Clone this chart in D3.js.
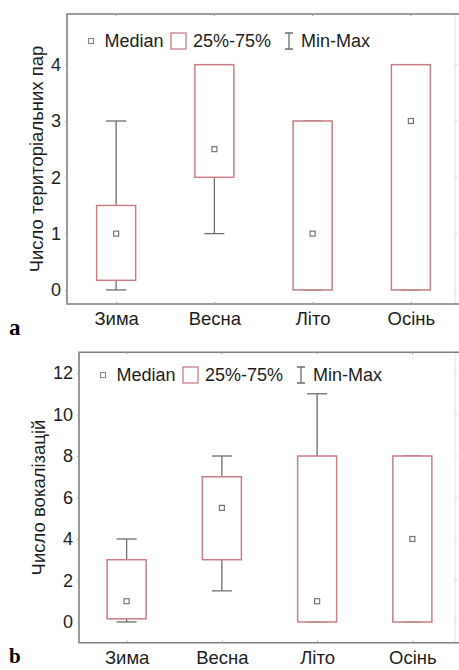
<!DOCTYPE html>
<html><head><meta charset="utf-8">
<script src="https://cdn.jsdelivr.net/npm/d3@7"></script>
<style>body{margin:0;background:#fff}svg{display:block}</style>
</head><body>
<svg id="c" width="459" height="670"></svg>
<script>
const categories = ["Зима", "Весна", "Літо", "Осінь"];
// panel a: Число територіальних пар
const aMin = [0, 1, 0, 0];
const aQ1 = [0.17, 2, 0, 0];
const aMed = [1, 2.5, 1, 3];
const aQ3 = [1.5, 4, 3, 4];
const aMax = [3, 4, 3, 4];
const aTicks = [0, 1, 2, 3, 4];
// panel b: Число вокалізацій
const bMin = [0, 1.5, 0, 0];
const bQ1 = [0.15, 3, 0, 0];
const bMed = [1, 5.5, 1, 4];
const bQ3 = [3, 7, 8, 8];
const bMax = [4, 8, 11, 8];
const bTicks = [0, 2, 4, 6, 8, 10, 12];
const legendLabels = ["Median", "25%-75%", "Min-Max"];

const svg = d3.select("#c");
const FONT = "'Liberation Sans', Arial, sans-serif";
const boxCol = "#c97e88", whiskCol = "#6e6e6e", frameCol = "#808080", textCol = "#1e1e1e";

function panel(o) {
  const g = svg.append("g");
  const x = d3.scalePoint().domain(categories).range([o.left, o.right]).padding(0.5);
  const y = d3.scaleLinear().domain(o.domain).range([o.bottom, o.top]);
  // faint right border
  g.append("line").attr("x1", 455).attr("x2", 455).attr("y1", o.top).attr("y2", o.bottom)
    .attr("stroke", "#e2e2e2").attr("stroke-width", 1);
  // frame: top, left, bottom
  g.append("path").attr("d", `M${o.right},${o.top}H${o.left}V${o.bottom}H${o.right}`)
    .attr("fill", "none").attr("stroke", frameCol).attr("stroke-width", 1.6);
  // y axis
  const ya = g.append("g").attr("transform", `translate(${o.left},0)`)
    .call(d3.axisLeft(y).tickValues(o.ticks).tickFormat(d3.format("d")).tickSize(2).tickPadding(4));
  ya.select(".domain").remove();
  ya.selectAll("line").attr("stroke", "#aaa");
  ya.selectAll("text").attr("font-family", FONT).attr("font-size", 18).attr("fill", textCol);
  // right faint ticks
  g.selectAll(".rt").data(o.ticks).join("line")
    .attr("x1", 454).attr("x2", 458).attr("y1", d => y(d)).attr("y2", d => y(d))
    .attr("stroke", "#ddd");
  // x axis
  const xa = g.append("g").attr("transform", `translate(0,${o.bottom})`)
    .call(d3.axisBottom(x).tickSize(-2).tickPadding(8));
  xa.select(".domain").remove();
  xa.selectAll("line").attr("stroke", "#999");
  xa.selectAll("text").attr("font-family", FONT).attr("font-size", 18.5).attr("fill", textCol);
  // top ticks
  g.selectAll(".tt").data(categories).join("line")
    .attr("x1", d => x(d)).attr("x2", d => x(d)).attr("y1", o.top).attr("y2", o.top + 2)
    .attr("stroke", "#999");
  const idx = d3.range(categories.length);
  const bw = 39, cw = 20;
  // whiskers
  idx.forEach(i => {
    const cx = x(categories[i]);
    if (o.max[i] > o.q3[i]) {
      g.append("line").attr("x1", cx).attr("x2", cx).attr("y1", y(o.q3[i])).attr("y2", y(o.max[i])).attr("stroke", whiskCol).attr("stroke-width", 1.3);
    }
    g.append("line").attr("x1", cx - cw / 2).attr("x2", cx + cw / 2).attr("y1", y(o.max[i])).attr("y2", y(o.max[i])).attr("stroke", whiskCol).attr("stroke-width", 1.3);
    if (o.min[i] < o.q1[i]) {
      g.append("line").attr("x1", cx).attr("x2", cx).attr("y1", y(o.q1[i])).attr("y2", y(o.min[i])).attr("stroke", whiskCol).attr("stroke-width", 1.3);
    }
    g.append("line").attr("x1", cx - cw / 2).attr("x2", cx + cw / 2).attr("y1", y(o.min[i])).attr("y2", y(o.min[i])).attr("stroke", whiskCol).attr("stroke-width", 1.3);
  });
  // boxes
  g.selectAll(".box").data(idx).join("rect")
    .attr("x", i => x(categories[i]) - bw / 2).attr("width", bw)
    .attr("y", i => y(o.q3[i])).attr("height", i => y(o.q1[i]) - y(o.q3[i]))
    .attr("fill", "#fff").attr("stroke", boxCol).attr("stroke-width", 1.5);
  // medians
  g.selectAll(".med").data(idx).join("rect")
    .attr("x", i => x(categories[i]) - 2.5).attr("y", i => y(o.med[i]) - 2.5)
    .attr("width", 5).attr("height", 5)
    .attr("fill", "#fff").attr("stroke", "#777").attr("stroke-width", 1.2);
  // legend
  const L = o.left, ly = o.legendY;
  g.append("rect").attr("x", L + 21.5).attr("y", ly - 2.5).attr("width", 5).attr("height", 5)
    .attr("fill", "#fff").attr("stroke", "#888").attr("stroke-width", 1.1);
  g.append("rect").attr("x", L + 104).attr("y", ly - 8).attr("width", 15).attr("height", 16)
    .attr("fill", "#fff").attr("stroke", boxCol).attr("stroke-width", 1.3);
  const ib = L + 222;
  g.append("path").attr("d", `M${ib - 4},${ly - 8}H${ib + 4}M${ib},${ly - 8}V${ly + 8}M${ib - 4},${ly + 8}H${ib + 4}`)
    .attr("stroke", whiskCol).attr("stroke-width", 1.3).attr("fill", "none");
  const tx = [37.5, 126, 234];
  legendLabels.forEach((t, i) => {
    g.append("text").attr("x", L + tx[i]).attr("y", ly).attr("dy", "0.35em")
      .attr("font-family", FONT).attr("font-size", 18).attr("fill", textCol).text(t);
  });
  // y label
  g.append("text").attr("transform", `translate(${o.ylabX},${(o.top + o.bottom) / 2}) rotate(-90)`)
    .attr("text-anchor", "middle").attr("dy", "0.35em")
    .attr("font-family", FONT).attr("font-size", 18.5).attr("fill", textCol).text(o.ylabel);
  // panel letter
  svg.append("text").attr("x", 9).attr("y", o.letterY)
    .attr("font-family", "'Liberation Serif', 'Times New Roman', serif").attr("font-weight", "bold")
    .attr("font-size", o.letterSize).attr("fill", "#000").text(o.letter);
}

panel({left: 67, right: 460, top: 14, bottom: 304, domain: [-0.25, 4.9], ticks: aTicks,
  min: aMin, q1: aQ1, med: aMed, q3: aQ3, max: aMax, legendY: 41, ylabX: 37,
  ylabel: "Число територіальних пар", letter: "a", letterY: 335, letterSize: 23});
panel({left: 79, right: 460, top: 352.3, bottom: 642.7, domain: [-1, 13], ticks: bTicks,
  min: bMin, q1: bQ1, med: bMed, q3: bQ3, max: bMax, legendY: 375, ylabX: 38.5,
  ylabel: "Число вокалізацій", letter: "b", letterY: 663, letterSize: 21});
</script>
</body></html>
